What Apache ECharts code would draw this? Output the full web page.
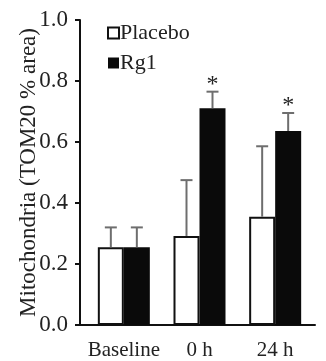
<!DOCTYPE html>
<html>
<head>
<meta charset="utf-8">
<script src="https://cdn.jsdelivr.net/npm/echarts@6/dist/echarts.min.js"></script>
<style>html,body{margin:0;padding:0;background:#fff;}#c{width:326px;height:361px;}</style>
</head>
<body>
<div id="c"></div>
<script>
var categories = ['Baseline', '0 h', '24 h'];
var placebo = [0.255, 0.292, 0.355];
var placeboErr = [0.065, 0.183, 0.231];
var rg1 = [0.255, 0.711, 0.636];
var rg1Err = [0.065, 0.054, 0.059];
var rg1Sig = ['', '*', '*'];
var yTicks = [0, 0.2, 0.4, 0.6, 0.8, 1.0];

var FONT = '"Liberation Serif", "Times New Roman", serif';
var chart = echarts.init(document.getElementById('c'), null, {renderer: 'canvas'});

function errSeries(name, vals, errs, side, sig) {
  return {
    name: name,
    type: 'custom',
    xAxisIndex: 1, yAxisIndex: 1,
    z: 5,
    data: vals.map(function (v, i) { return [i, v, errs[i], sig ? sig[i] : '']; }),
    renderItem: function (params, api) {
      var i = api.value(0), v = api.value(1), e = api.value(2);
      var base = api.coord([i, v]);
      var top = api.coord([i, v + e]);
      var x = base[0] + side * 13;
      var children = [
        {type: 'line', shape: {x1: x, y1: base[1], x2: x, y2: top[1]}, style: {stroke: '#6e6e6e', lineWidth: 2}},
        {type: 'line', shape: {x1: x - 6, y1: top[1], x2: x + 6, y2: top[1]}, style: {stroke: '#6e6e6e', lineWidth: 2}}
      ];
      var s = sig ? sig[i] : '';
      if (s) {
        children.push({type: 'text', style: {text: s, x: x, y: top[1] - 7, textAlign: 'center', textVerticalAlign: 'middle', font: '24px ' + FONT, fill: '#222'}});
      }
      return {type: 'group', children: children};
    }
  };
}

chart.setOption({
  animation: false,
  backgroundColor: '#fff',
  legend: {
    data: ['Placebo', 'Rg1'],
    orient: 'vertical',
    left: 107, top: 22, padding: 0,
    itemWidth: 11, itemHeight: 11, itemGap: 8,
    icon: 'rect',
    textStyle: {fontFamily: FONT, fontSize: 22, color: '#222', padding: [0, 0, 0, -4], lineHeight: 21}
  },
  grid: [
    {left: 80, right: 11, top: 20, bottom: 36},
    {left: 86, right: 13, top: 20, bottom: 36}
  ],
  xAxis: [
    {gridIndex: 0, type: 'value', min: 0, max: 1, axisLine: {show: true, onZero: false, lineStyle: {color: '#111', width: 2}}, axisTick: {show: false}, axisLabel: {show: false}, splitLine: {show: false}},
    {gridIndex: 1, type: 'category', data: categories, axisLine: {show: false}, axisTick: {show: false},
     axisLabel: {interval: 0, fontFamily: FONT, fontSize: 21, color: '#222', margin: 15}}
  ],
  yAxis: [
    {gridIndex: 0, type: 'value', min: 0, max: 1, interval: 0.2,
     name: 'Mitochondria (TOM20 % area)', nameLocation: 'middle', nameGap: 40, nameRotate: 90,
     nameMoveOverlap: false,
     nameTextStyle: {fontFamily: FONT, fontSize: 23, color: '#222'},
     axisLine: {show: true, lineStyle: {color: '#111', width: 2}},
     axisTick: {show: true, inside: false, length: 5, lineStyle: {color: '#111', width: 2}},
     axisLabel: {fontFamily: FONT, fontSize: 23, color: '#222', margin: 12, formatter: function (v) { return v.toFixed(1); }},
     splitLine: {show: false}},
    {gridIndex: 1, type: 'value', min: 0, max: 1, show: false}
  ],
  series: [
    {name: 'Placebo', type: 'bar', xAxisIndex: 1, yAxisIndex: 1, data: placebo, barWidth: 26, barGap: '0%',
     itemStyle: {color: '#fff', borderColor: '#111', borderWidth: 2}},
    {name: 'Rg1', type: 'bar', xAxisIndex: 1, yAxisIndex: 1, data: rg1, barWidth: 26, barGap: '0%',
     itemStyle: {color: '#0a0a0a', borderColor: '#0a0a0a', borderWidth: 0}},
    errSeries('PlaceboErr', placebo, placeboErr, -1, null),
    errSeries('Rg1Err', rg1, rg1Err, 1, rg1Sig)
  ]
});
</script>
</body>
</html>
